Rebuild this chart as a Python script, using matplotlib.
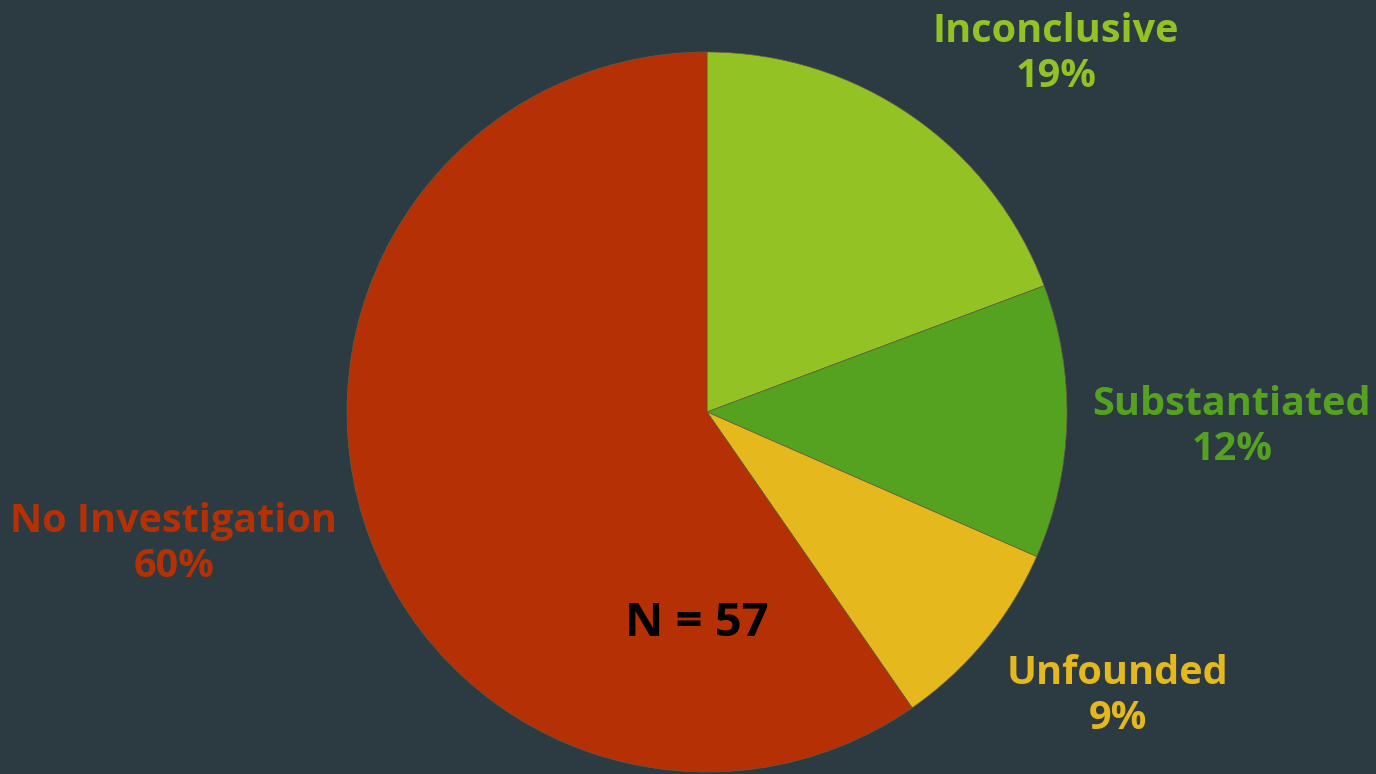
import matplotlib
matplotlib.use("Agg")
import matplotlib.pyplot as plt

categories = ["Inconclusive", "Substantiated", "Unfounded", "No Investigation"]
counts = [11, 7, 5, 34]
percent_labels = ["19%", "12%", "9%", "60%"]
colors = ["#93C225", "#55A221", "#E5B81E", "#B53005"]
total_label = "N = 57"

W, H = 1376, 774
bg = "#2C3B42"
fig = plt.figure(figsize=(W / 100, H / 100), dpi=100, facecolor=bg)

cx, cy, r = 707, 412, 360
ax = fig.add_axes([0, 0, 1, 1])
ax.set_facecolor(bg)
ax.axis("off")

ax.pie(counts, colors=colors, startangle=90, counterclock=False, radius=1,
       center=(0, 0), frame=False,
       wedgeprops=dict(linewidth=0.5, edgecolor="#6a5a40"))
ax.set_xlim(-cx / r, (W - cx) / r)
ax.set_ylim(-(H - cy) / r, cy / r)
ax.set_aspect("auto")

label_pos = [(1056, 54), (1232, 427), (1118, 696), (174, 544)]
font = ["Open Sans", "DejaVu Sans"]
for cat, pct, col, (px, py) in zip(categories, percent_labels, colors, label_pos):
    ax.text((px - cx) / r, (cy - py) / r, f"{cat}\n{pct}", color=col,
            ha="center", va="center", fontsize=28.5, fontweight="bold",
            family=font, linespacing=1.17)

ax.text((697 - cx) / r, (cy - 624) / r, total_label, color="black",
        ha="center", va="center", fontsize=34, fontweight="bold", family=font)

fig.savefig("out.png", dpi=100, facecolor=bg)
